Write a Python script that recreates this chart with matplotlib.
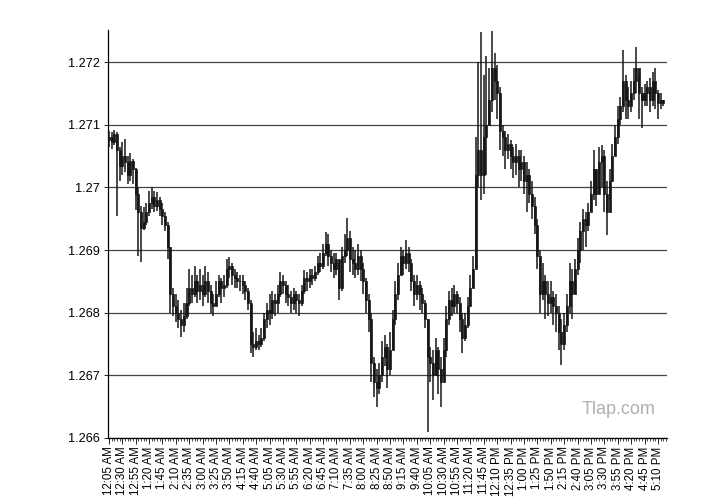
import numpy as np
import pandas as pd
import matplotlib
matplotlib.use("Agg")
import matplotlib.pyplot as plt
from matplotlib.ticker import MultipleLocator, FixedLocator

# 5 minute bars, 12:05 AM to 5:20 PM
close = [1.27080, 1.27072, 1.27085, 1.27060, 1.27035, 1.27050, 1.27040, 1.27020, 1.27042, 1.27030,
         1.26990, 1.26960, 1.26935, 1.26945, 1.26960, 1.26975, 1.26985, 1.26970, 1.26980, 1.26965,
         1.26955, 1.26940, 1.26905, 1.26830, 1.26810, 1.26800, 1.26790, 1.26780, 1.26795, 1.26815,
         1.26840, 1.26830, 1.26850, 1.26835, 1.26845, 1.26830, 1.26850, 1.26835, 1.26815, 1.26810,
         1.26830, 1.26850, 1.26840, 1.26845, 1.26870, 1.26875, 1.26860, 1.26855, 1.26850, 1.26850,
         1.26845, 1.26835, 1.26815, 1.26750, 1.26745, 1.26755, 1.26750, 1.26760, 1.26790, 1.26805,
         1.26800, 1.26820, 1.26815, 1.26830, 1.26850, 1.26845, 1.26830, 1.26825, 1.26815, 1.26830,
         1.26820, 1.26815, 1.26835, 1.26855, 1.26850, 1.26860, 1.26855, 1.26865, 1.26880, 1.26875,
         1.26895, 1.26910, 1.26890, 1.26880, 1.26870, 1.26885, 1.26840, 1.26890, 1.26900, 1.26920,
         1.26885, 1.26880, 1.26870, 1.26890, 1.26870, 1.26850, 1.26820, 1.26790, 1.26720, 1.26690,
         1.26680, 1.26700, 1.26730, 1.26745, 1.26710, 1.26740, 1.26790, 1.26830, 1.26860, 1.26890,
         1.26880, 1.26895, 1.26880, 1.26850, 1.26830, 1.26845, 1.26830, 1.26815, 1.26790, 1.26730,
         1.26720, 1.26700, 1.26740, 1.26710, 1.26690, 1.26740, 1.26790, 1.26820, 1.26810, 1.26830,
         1.26815, 1.26790, 1.26760, 1.26780, 1.26810, 1.26840, 1.26870, 1.27020, 1.27060, 1.27020,
         1.27080, 1.27100, 1.27140, 1.27190, 1.27170, 1.27150, 1.27090, 1.27080, 1.27060, 1.27070,
         1.27050, 1.27040, 1.27050, 1.27030, 1.27040, 1.27010, 1.27020, 1.26990, 1.26970, 1.26940,
         1.26890, 1.26830, 1.26850, 1.26830, 1.26815, 1.26825, 1.26810, 1.26800, 1.26770, 1.26750,
         1.26780, 1.26810, 1.26850, 1.26830, 1.26870, 1.26900, 1.26930, 1.26950, 1.26940, 1.26960,
         1.26990, 1.27030, 1.26990, 1.27040, 1.27050, 1.26990, 1.26960, 1.27010, 1.27050, 1.27080,
         1.27110, 1.27130, 1.27170, 1.27140, 1.27130, 1.27150, 1.27170, 1.27190, 1.27150, 1.27140,
         1.27150, 1.27160, 1.27140, 1.27170, 1.27150, 1.27135, 1.27140, 1.27135]

high = [1.27090, 1.27088, 1.27092, 1.27088, 1.27065, 1.27072, 1.27078, 1.27050, 1.27055, 1.27045,
        1.27031, 1.27000, 1.26970, 1.26968, 1.26975, 1.26995, 1.27000, 1.26995, 1.26992, 1.26985,
        1.26975, 1.26960, 1.26945, 1.26905, 1.26840, 1.26830, 1.26820, 1.26805, 1.26815, 1.26840,
        1.26870, 1.26860, 1.26875, 1.26860, 1.26870, 1.26860, 1.26875, 1.26865, 1.26845, 1.26830,
        1.26850, 1.26860, 1.26855, 1.26860, 1.26885, 1.26889, 1.26880, 1.26870, 1.26865, 1.26860,
        1.26860, 1.26850, 1.26840, 1.26820, 1.26770, 1.26775, 1.26765, 1.26775, 1.26800, 1.26815,
        1.26830, 1.26835, 1.26830, 1.26845, 1.26865, 1.26860, 1.26850, 1.26845, 1.26835, 1.26840,
        1.26835, 1.26830, 1.26845, 1.26868, 1.26865, 1.26870, 1.26870, 1.26875, 1.26890, 1.26895,
        1.26910, 1.26929, 1.26925, 1.26900, 1.26895, 1.26895, 1.26880, 1.26905, 1.26925, 1.26951,
        1.26930, 1.26905, 1.26900, 1.26910, 1.26900, 1.26880, 1.26855, 1.26830, 1.26800, 1.26730,
        1.26710, 1.26720, 1.26755, 1.26765, 1.26750, 1.26770, 1.26805, 1.26850, 1.26880, 1.26905,
        1.26900, 1.26916, 1.26905, 1.26885, 1.26860, 1.26860, 1.26850, 1.26840, 1.26820, 1.26790,
        1.26745, 1.26740, 1.26760, 1.26745, 1.26730, 1.26760, 1.26810, 1.26835, 1.26840, 1.26845,
        1.26835, 1.26825, 1.26800, 1.26800, 1.26825, 1.26860, 1.26890, 1.27080, 1.27200, 1.27248,
        1.27180, 1.27210, 1.27190, 1.27250, 1.27215, 1.27195, 1.27160, 1.27100, 1.27090, 1.27085,
        1.27075, 1.27065, 1.27070, 1.27060, 1.27060, 1.27050, 1.27040, 1.27030, 1.27010, 1.26985,
        1.26950, 1.26900, 1.26880, 1.26860, 1.26850, 1.26850, 1.26835, 1.26830, 1.26810, 1.26790,
        1.26800, 1.26830, 1.26880, 1.26870, 1.26885, 1.26920, 1.26945, 1.26965, 1.26960, 1.26975,
        1.27010, 1.27060, 1.27030, 1.27065, 1.27067, 1.27060, 1.27010, 1.27030, 1.27070, 1.27100,
        1.27130, 1.27145, 1.27219, 1.27180, 1.27160, 1.27170, 1.27190, 1.27224, 1.27180, 1.27160,
        1.27165, 1.27170, 1.27175, 1.27185, 1.27190, 1.27155, 1.27150, 1.27140]

low = [1.27065, 1.27062, 1.27068, 1.26955, 1.27010, 1.27020, 1.27025, 1.27005, 1.27010, 1.27005,
       1.26964, 1.26890, 1.26881, 1.26932, 1.26940, 1.26955, 1.26965, 1.26960, 1.26962, 1.26955,
       1.26940, 1.26930, 1.26885, 1.26800, 1.26795, 1.26785, 1.26775, 1.26761, 1.26770, 1.26790,
       1.26810, 1.26815, 1.26825, 1.26815, 1.26820, 1.26810, 1.26825, 1.26815, 1.26800, 1.26795,
       1.26810, 1.26825, 1.26815, 1.26825, 1.26840, 1.26855, 1.26845, 1.26840, 1.26840, 1.26835,
       1.26830, 1.26820, 1.26805, 1.26736, 1.26730, 1.26740, 1.26740, 1.26745, 1.26755, 1.26775,
       1.26780, 1.26790, 1.26795, 1.26800, 1.26825, 1.26830, 1.26815, 1.26810, 1.26800, 1.26805,
       1.26800, 1.26795, 1.26810, 1.26830, 1.26835, 1.26840, 1.26845, 1.26850, 1.26860, 1.26865,
       1.26870, 1.26890, 1.26875, 1.26865, 1.26855, 1.26860, 1.26820, 1.26835, 1.26880, 1.26890,
       1.26865, 1.26860, 1.26855, 1.26860, 1.26850, 1.26830, 1.26800, 1.26770, 1.26690, 1.26665,
       1.26650, 1.26670, 1.26690, 1.26715, 1.26680, 1.26700, 1.26740, 1.26780, 1.26820, 1.26860,
       1.26860, 1.26870, 1.26865, 1.26835, 1.26810, 1.26820, 1.26805, 1.26800, 1.26775, 1.26610,
       1.26690, 1.26660, 1.26700, 1.26670, 1.26650, 1.26700, 1.26730, 1.26780, 1.26795, 1.26800,
       1.26800, 1.26770, 1.26736, 1.26755, 1.26775, 1.26810, 1.26840, 1.26870, 1.27000, 1.26980,
       1.26990, 1.27020, 1.27100, 1.27120, 1.27140, 1.27110, 1.27060, 1.27050, 1.27030, 1.27045,
       1.27030, 1.27015, 1.27020, 1.27000, 1.27010, 1.26990, 1.26960, 1.26975, 1.26950, 1.26925,
       1.26870, 1.26800, 1.26820, 1.26790, 1.26795, 1.26800, 1.26780, 1.26770, 1.26740, 1.26716,
       1.26740, 1.26770, 1.26800, 1.26790, 1.26830, 1.26860, 1.26880, 1.26900, 1.26905, 1.26930,
       1.26960, 1.26980, 1.26970, 1.26990, 1.27000, 1.26960, 1.26924, 1.26980, 1.27010, 1.27050,
       1.27070, 1.27100, 1.27120, 1.27110, 1.27110, 1.27120, 1.27140, 1.27150, 1.27110, 1.27095,
       1.27130, 1.27130, 1.27120, 1.27130, 1.27125, 1.27110, 1.27125, 1.27130]

open_ = [1.27075] + close[:-1]

times = pd.date_range("2000-01-01 00:05", periods=len(close), freq="5min")
labels = [t.strftime("%I:%M %p").lstrip("0") for t in times]

plt.rcParams['font.family'] = ['Liberation Sans', 'DejaVu Sans']

fig = plt.figure(figsize=(7.25, 5.04), dpi=100)
ax = fig.add_axes([0.149, 0.131, 0.771, 0.809])

x = np.arange(len(close))
bar_color = "#161616"

# high-low lines and open-close bodies
ax.vlines(x, low, high, color=bar_color, linewidth=1.1, zorder=3)
body_lo = np.minimum(open_, close)
body_hi = np.maximum(open_, close)
ax.bar(x, body_hi - body_lo, bottom=body_lo, width=0.75, color=bar_color,
       edgecolor=bar_color, linewidth=0.5, zorder=3)

ax.set_ylim(1.266, 1.27251)
ax.set_xlim(-0.3, 208.4)

yt = [1.266, 1.267, 1.268, 1.269, 1.27, 1.271, 1.272]
ax.set_yticks(yt)
ax.set_yticklabels(["1.266", "1.267", "1.268", "1.269", "1.27", "1.271", "1.272"], fontsize=9.2)
ax.yaxis.grid(True, color="#444444", linewidth=0.9)
ax.set_axisbelow(True)

major = x[::5]
ax.xaxis.set_major_locator(FixedLocator(major))
ax.set_xticklabels([labels[i] for i in major], rotation=90, fontsize=8.3)
ax.xaxis.set_minor_locator(MultipleLocator(1))
ax.tick_params(axis="x", which="major", length=4, width=0.6, pad=2)
ax.tick_params(axis="x", which="minor", length=2.5, width=0.5)
ax.tick_params(axis="y", length=3, width=0.6, pad=3)

for s in ["top", "right"]:
    ax.spines[s].set_visible(False)
ax.spines["left"].set_linewidth(0.9)
ax.spines["bottom"].set_linewidth(0.9)

ax.text(0.914, 0.071, "Tlap.com", transform=ax.transAxes, fontsize=13,
        color="#b0b0b0", ha="center", va="center")

fig.savefig("out.png", dpi=100)
